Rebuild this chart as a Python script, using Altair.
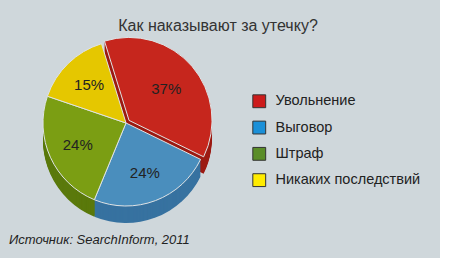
import math
import altair as alt
import pandas as pd

title_text = "Как наказывают за утечку?"
source_text = "Источник: SearchInform, 2011"
categories = ["Увольнение", "Выговор", "Штраф", "Никаких последствий"]
values = [37, 24, 24, 15]
labels = ["37%", "24%", "24%", "15%"]
top_colors = ["#c6261d", "#4a8ebd", "#7b9e13", "#e5c700"]
side_colors = ["#9c1b13", "#3772a0", "#5a790b", "#b89b00"]
legend_colors = ["#cc1b1b", "#1b90d8", "#5a8d28", "#ffec00"]

df = pd.DataFrame({"cat": categories, "value": values, "label": labels})
df["end"] = df["value"].cumsum()
df["start"] = df["end"] - df["value"]
df["mid"] = df["start"] + df["value"] / 2

W, H = 440, 258
cx, cy = 126, 123
R = 83
depth = 17
start_angle = -0.3
theta_scale = alt.Scale(domain=[0, 100], range=[start_angle, start_angle + 2 * math.pi])
explode = 4
mid_red = start_angle + 2 * math.pi * values[0] / 200
ex_dx = explode * math.sin(mid_red)
ex_dy = -explode * math.cos(mid_red)

base = alt.Chart(df)
red_f = alt.datum.cat == categories[0]
rest_f = alt.datum.cat != categories[0]

top_fill = alt.Fill("cat:N", scale=alt.Scale(domain=categories, range=top_colors), legend=None)
side_fill = alt.Fill("cat:N", scale=alt.Scale(domain=categories, range=side_colors), legend=None)
legend_color = alt.Color(
    "cat:N",
    scale=alt.Scale(domain=categories, range=legend_colors),
    legend=alt.Legend(
        title=None, orient="none", legendX=252, legendY=94,
        symbolType="square", symbolSize=165, symbolStrokeColor="#333333",
        symbolStrokeWidth=1, symbolOpacity=1,
        labelFontSize=14.5, labelColor="#222222", labelFont="Liberation Sans",
        rowPadding=8.3, labelOffset=9, labelLimit=300,
    ),
)

side_layers = []
for i in range(depth, 0, -1):
    for flt, dx, dy in ((rest_f, 0, 0), (red_f, ex_dx, ex_dy)):
        side_layers.append(
            base.transform_filter(flt).mark_arc(radius=R).encode(
                theta=alt.Theta("start:Q", scale=theta_scale),
                theta2="end:Q",
                fill=side_fill,
                x=alt.value(cx + dx),
                y=alt.value(cy + dy + i),
            )
        )
sides = alt.layer(*side_layers)

top_layers = []
for flt, dx, dy in ((rest_f, 0, 0), (red_f, ex_dx, ex_dy)):
    top_layers.append(
        base.transform_filter(flt).mark_arc(radius=R, stroke="#dfe3e5", strokeWidth=1).encode(
            theta=alt.Theta("start:Q", scale=theta_scale),
            theta2="end:Q",
            fill=top_fill,
            x=alt.value(cx + dx),
            y=alt.value(cy + dy),
        )
    )
tops = alt.layer(*top_layers)

legend_layer = base.mark_square(opacity=0, size=1, filled=True).encode(
    color=legend_color, x=alt.value(0), y=alt.value(0)
)

texts = base.mark_text(radius=53, fontSize=15, color="#222222", font="Liberation Sans").encode(
    theta=alt.Theta("mid:Q", scale=theta_scale),
    text="label:N",
    x=alt.value(cx),
    y=alt.value(cy),
)

title = alt.Chart(pd.DataFrame({"t": [title_text]})).mark_text(
    fontSize=16, color="#333333", font="Liberation Sans", align="center", baseline="middle"
).encode(text="t:N", x=alt.value(218), y=alt.value(26))

source = alt.Chart(pd.DataFrame({"t": [source_text]})).mark_text(
    fontSize=13, color="#222222", font="Liberation Sans", fontStyle="italic",
    align="left", baseline="middle"
).encode(text="t:N", x=alt.value(9), y=alt.value(240))

chart = alt.layer(sides, tops, legend_layer, texts, title, source).resolve_scale(
    fill="independent"
).properties(
    width=W, height=H,
    padding={"left": 0, "top": 0, "right": 10, "bottom": 10},
    autosize=alt.AutoSizeParams(type="none"),
    background="white",
).configure_view(fill="#cfd7db", stroke=None)

chart.save("out.html", embed_options={"renderer": "svg", "actions": False})
